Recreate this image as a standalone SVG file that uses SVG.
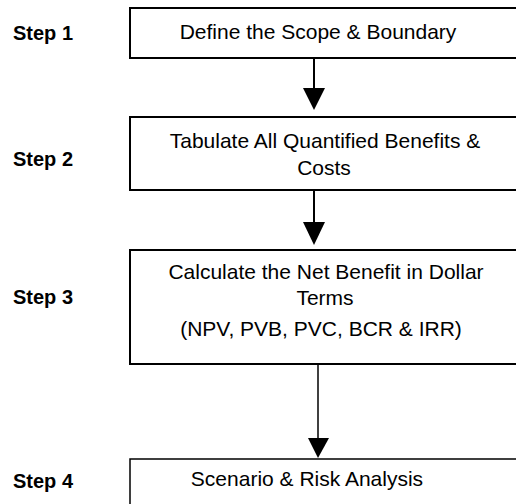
<svg xmlns="http://www.w3.org/2000/svg" width="516" height="504" viewBox="0 0 516 504">
<style>
.box{fill:#fff;stroke:#000;stroke-width:2}
.thin{stroke-width:1.5}
.lbl{font-family:"Liberation Sans",Arial,sans-serif;font-size:20px;font-weight:bold;fill:#000}
.t{font-family:"Liberation Sans",Arial,sans-serif;font-size:21px;fill:#000;text-anchor:middle}
.ln{stroke:#000;stroke-width:2;fill:none}
</style>
<rect width="516" height="504" fill="#fff"/>
<g id="connectors">
<line class="ln" x1="314" y1="58" x2="314" y2="90"/>
<polygon points="303,88 325,88 314,110"/>
<line class="ln" x1="314" y1="190" x2="314" y2="224"/>
<polygon points="303,222 325,222 314,245"/>
<line class="ln" x1="318" y1="364" x2="318" y2="440" style="stroke-width:1.5"/>
<polygon points="308,438 329,438 318,458"/>
</g>
<g id="step1">
<rect class="box" x="130" y="8" width="400" height="50"/>
<text class="lbl" x="13" y="40">Step 1</text>
<text class="t" x="318" y="39">Define the Scope &amp; Boundary</text>
</g>
<g id="step2">
<rect class="box" x="130" y="117" width="400" height="73"/>
<text class="lbl" x="13" y="166">Step 2</text>
<text class="t" x="325" y="148">Tabulate All Quantified Benefits &amp;</text>
<text class="t" x="324" y="175">Costs</text>
</g>
<g id="step3">
<rect class="box" x="130" y="250" width="400" height="114"/>
<text class="lbl" x="13" y="304">Step 3</text>
<text class="t" x="326" y="279">Calculate the Net Benefit in Dollar</text>
<text class="t" x="325" y="305">Terms</text>
<text class="t" x="321" y="336">(NPV, PVB, PVC, BCR &amp; IRR)</text>
</g>
<g id="step4">
<rect class="box thin" x="130" y="459" width="400" height="60"/>
<text class="lbl" x="13" y="488">Step 4</text>
<text class="t" x="307" y="486">Scenario &amp; Risk Analysis</text>
</g>
</svg>
